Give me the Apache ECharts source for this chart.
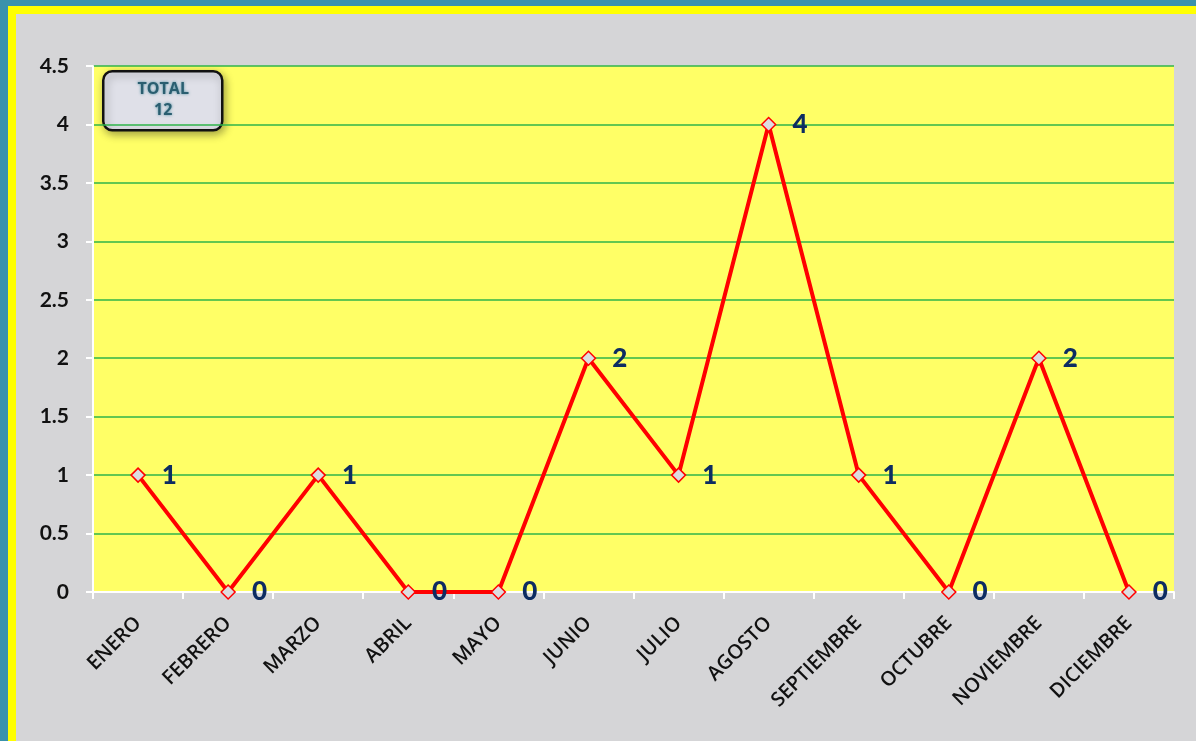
<!DOCTYPE html>
<html lang="es">
<head>
<meta charset="utf-8" />
<title>Total por mes</title>
<style>
  html, body { margin: 0; padding: 0; background: #d5d5d7; }
  #main { width: 1196px; height: 741px; }
</style>
</head>
<body>
<div id="main"></div>
<script src="https://cdn.jsdelivr.net/npm/echarts@6/dist/echarts.min.js"></script>
<script>
// datos del grafico
var meses = ['ENERO', 'FEBRERO', 'MARZO', 'ABRIL', 'MAYO', 'JUNIO', 'JULIO',
  'AGOSTO', 'SEPTIEMBRE', 'OCTUBRE', 'NOVIEMBRE', 'DICIEMBRE'];
var valores = [1, 0, 1, 0, 0, 2, 1, 4, 1, 0, 2, 0];
var total = 12;

var chart = echarts.init(document.getElementById('main'));

var option = {
  backgroundColor: '#d5d5d7',
  animation: false,
  grid: {
    left: 93, right: 22, top: 66, bottom: 149,
    show: true,
    backgroundColor: '#ffff66',
    borderWidth: 0
  },
  xAxis: {
    type: 'category',
    data: meses,
    axisLine: { lineStyle: { color: '#ffffff', width: 2 } },
    axisTick: { show: true, length: 7, lineStyle: { color: '#ffffff', width: 2 } },
    axisLabel: {
      rotate: 45,
      margin: 28,
      color: '#111111',
      fontFamily: 'Open Sans',
      fontWeight: 600,
      fontSize: 20
    },
    splitLine: { show: false }
  },
  yAxis: {
    type: 'value',
    min: 0, max: 4.5, interval: 0.5,
    axisLine: { show: true, lineStyle: { color: '#ffffff', width: 2 } },
    axisTick: { show: true, length: 7, lineStyle: { color: '#ffffff', width: 2 } },
    axisLabel: {
      margin: 24,
      color: '#111111',
      fontFamily: 'Lato',
      fontWeight: 'bold',
      fontSize: 21
    },
    splitLine: { lineStyle: { color: '#2fb54a', width: 1.5 } }
  },
  series: [{
    type: 'line',
    data: valores,
    symbol: 'diamond',
    symbolSize: 14,
    lineStyle: { color: '#ff0000', width: 4 },
    itemStyle: { color: '#dcdcdf', borderColor: '#ff0000', borderWidth: 1.5 },
    label: {
      show: true,
      position: 'right',
      distance: 16,
      color: '#0d2c62',
      fontFamily: 'Lato',
      fontWeight: 900,
      fontSize: 26
    }
  }],
  graphic: [
    // bordes del marco
    { type: 'rect', z: 100, shape: { x: 0, y: 0, width: 1196, height: 6 }, style: { fill: '#3a92ac' } },
    { type: 'rect', z: 100, shape: { x: 0, y: 0, width: 8, height: 741 }, style: { fill: '#3a92ac' } },
    { type: 'rect', z: 99, shape: { x: 8, y: 6, width: 1188, height: 8 }, style: { fill: '#ffff00' } },
    { type: 'rect', z: 99, shape: { x: 8, y: 6, width: 8, height: 735 }, style: { fill: '#ffff00' } },
    // cuadro de total
    {
      type: 'group', left: 102, top: 70, z: 110,
      children: [
        {
          type: 'rect',
          shape: { x: 0, y: 0, width: 119, height: 59, r: 9 },
          style: {
            fill: '#dfe0e8', stroke: '#111111', lineWidth: 2.5,
            shadowBlur: 8, shadowOffsetX: 2, shadowOffsetY: 3, shadowColor: 'rgba(0,0,0,0.35)'
          }
        },
        {
          type: 'text',
          x: 60, y: 29,
          style: {
            text: 'TOTAL\n' + total,
            align: 'center', verticalAlign: 'middle',
            fill: '#2a5e70',
            font: 'bold 16px "Open Sans"',
            lineHeight: 21,
            textShadowBlur: 3, textShadowColor: 'rgba(40,120,140,0.8)'
          }
        }
      ]
    }
  ]
};

chart.setOption(option);
</script>
</body>
</html>
